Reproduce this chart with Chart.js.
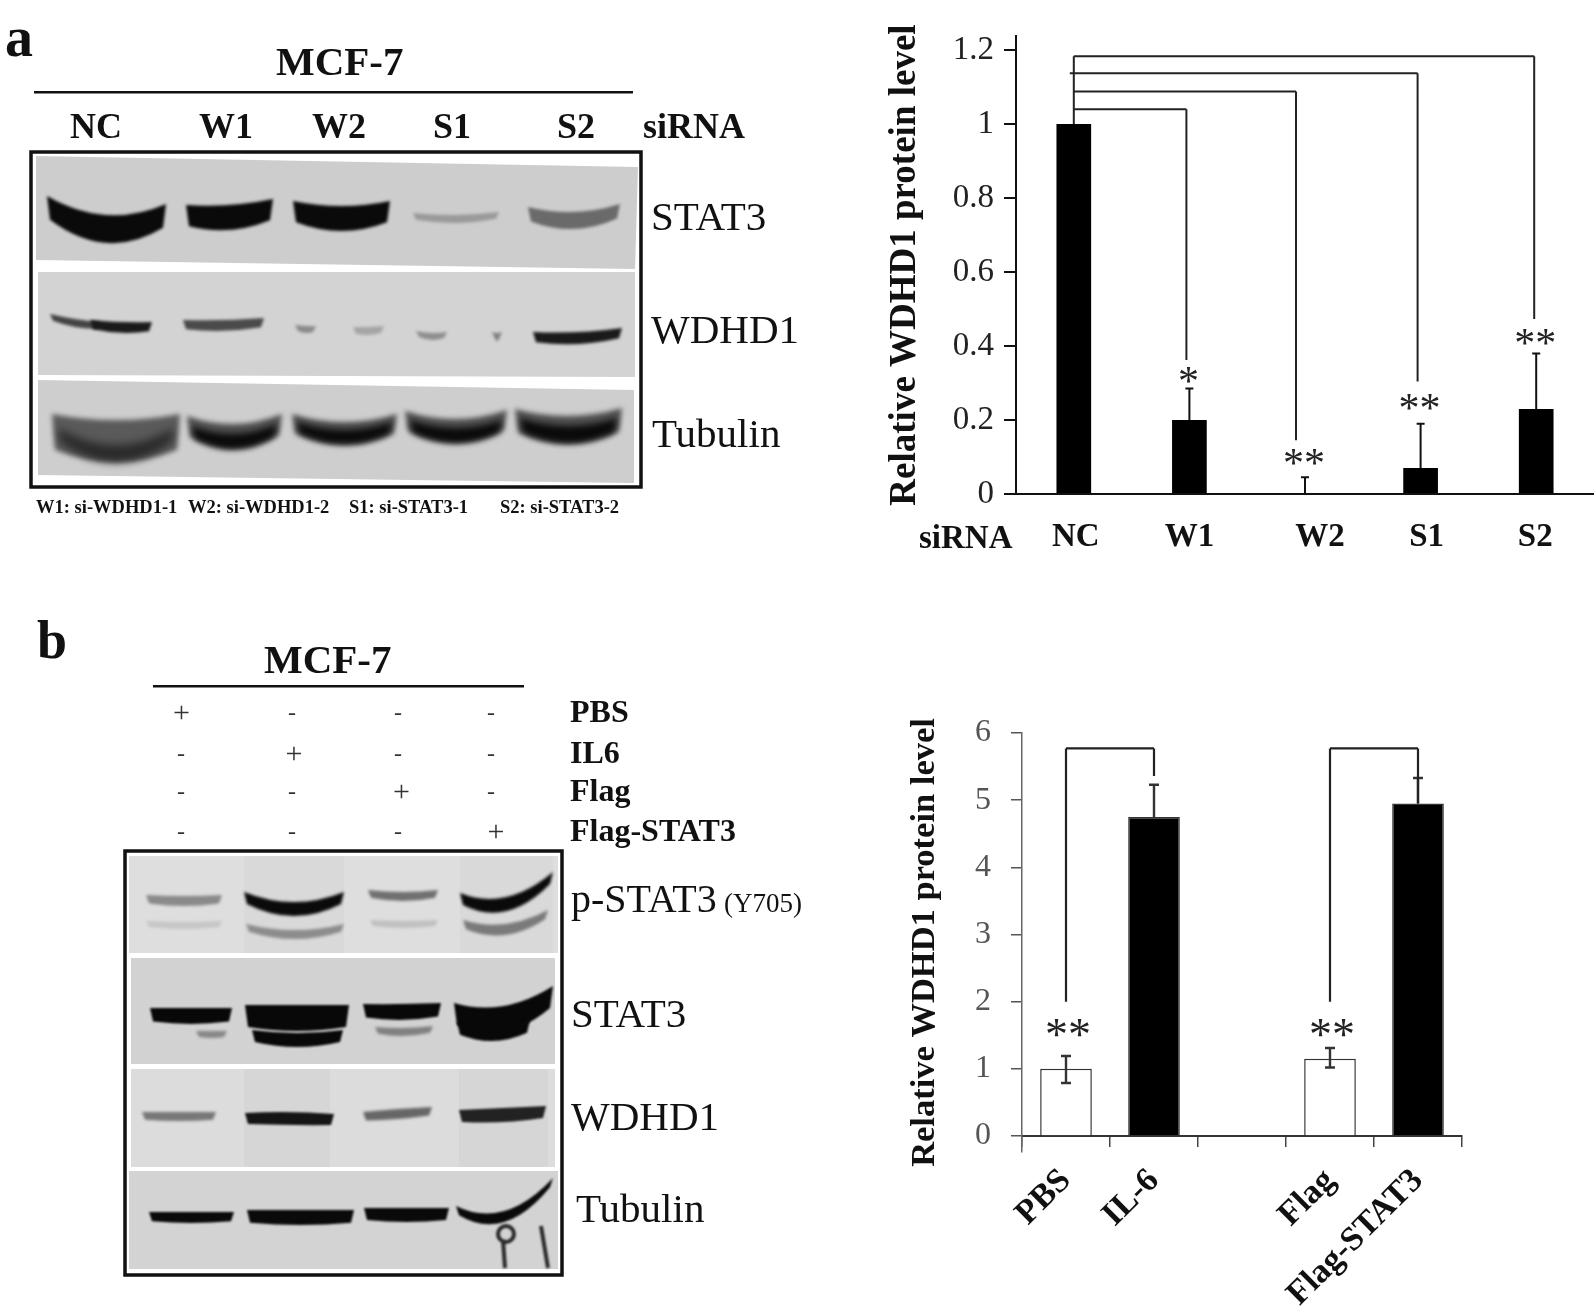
<!DOCTYPE html>
<html>
<head>
<meta charset="utf-8">
<title>WDHD1 / STAT3</title>
<script src="https://cdn.jsdelivr.net/npm/chart.js@4"></script>
<style>
    html, body { margin: 0; padding: 0; background: #fff; }
    #page { position: relative; width: 1594px; height: 1310px; overflow: hidden; filter: blur(0.5px); }
    canvas { position: absolute; }
    .lab { position: absolute; font-family: "Liberation Serif", serif; color: #111; white-space: nowrap; line-height: 1; transform: translateY(-50%); }
</style>
</head>
<body>
<div id="page">
    <canvas id="blots" width="860" height="1310" style="left:0;top:0"></canvas>
    <canvas id="chartA" width="734" height="570" style="left:860px;top:0"></canvas>
    <canvas id="chartB" width="600" height="620" style="left:880px;top:690px"></canvas>
</div>
<script>
// panel a, bar chart
const aLabels = ["NC", "W1", "W2", "S1", "S2"];
const aValues = [1, 0.2, 0, 0.07, 0.23];
const aErrTop = [1, 0.285, 0.045, 0.19, 0.38];
const aBracketLevel = [null, 1.04, 1.088, 1.137, 1.183];
const aBracketEnd = [null, 0.362, 0.145, 0.304, 0.473];
const aStars = ["", "*", "**", "**", "**"];
const aStarY = [null, 0.315, 0.095, 0.243, 0.42];

// panel b, bar chart
const bLabels = ["PBS", "IL-6", "", "Flag", "Flag-STAT3"];
const bValues = [1, 4.75, null, 1.15, 4.95];
const bErrTop = [1.19, 5.23, null, 1.31, 5.33];
const bErrBottom = [0.79, null, null, 1.02, null];
const bBracketLevel = 5.77;
const bBrackets = [[0, 1, 2, 5.36], [3, 4, 2, 4.95]];
const bStars = ["**", "", "", "**", ""];
const bStarY = [1.55, null, null, 1.55, null];

// blots, panel a and b text
const rowNames = ["PBS", "IL6", "Flag", "Flag-STAT3"];
const rowMarks = [
    ["+", "-", "-", "-"],
    ["-", "+", "-", "-"],
    ["-", "-", "+", "-"],
    ["-", "-", "-", "+"],
];

const SERIF = '"Liberation Serif", serif';
const page = document.getElementById("page");

const label = (text, x, cy, size, bold, color) => {
    const el = document.createElement("div");
    el.className = "lab";
    el.textContent = text;
    el.style.left = x + "px";
    el.style.top = cy + "px";
    el.style.fontSize = size + "px";
    el.style.fontWeight = bold ? "bold" : "normal";
    if (color) el.style.color = color;
    page.appendChild(el);
};

// ---- left side text ----
label("a", 5, 37, 56, true);
label("MCF-7", 276, 61, 41, true);
label("NC", 70, 126, 36, true);
label("W1", 199, 126, 36, true);
label("W2", 312, 126, 36, true);
label("S1", 433, 126, 36, true);
label("S2", 557, 126, 36, true);
label("siRNA", 643, 126, 36, true);
label("STAT3", 651, 216, 41, false);
label("WDHD1", 651, 329, 41, false);
label("Tubulin", 652, 433, 41, false);
label("W1: si-WDHD1-1", 36, 507, 18.5, true);
label("W2: si-WDHD1-2", 188, 507, 18.5, true);
label("S1: si-STAT3-1", 349, 507, 18.5, true);
label("S2: si-STAT3-2", 500, 507, 18.5, true);

label("b", 37, 640, 54, true);
label("MCF-7", 264, 659, 41, true);
const markX = [181, 292, 398, 491];
const rowY = [712, 753, 791, 831];
rowNames.forEach((name, r) => {
    label(name, 570, rowY[r] - 1, 32, true);
    rowMarks[r].forEach((m, c) => {
        const size = m === "+" ? 30 : 24;
        label(m, markX[c] + (m === "+" ? r * 1.5 - 8 : -4), rowY[r], size, false, "#333");
    });
});
label("p-STAT3", 571, 899, 40, false);
label("(Y705)", 724, 903, 27, false);
label("STAT3", 571, 1013, 41, false);
label("WDHD1", 571, 1116, 41, false);
label("Tubulin", 576, 1208, 41, false);
label("siRNA", 919, 537, 33, true);

// ---- blots ----
const bctx = document.getElementById("blots").getContext("2d");

const poly = (pts, color) => {
    bctx.filter = "none";
    bctx.fillStyle = color;
    bctx.beginPath();
    pts.forEach((p, i) => (i ? bctx.lineTo(p[0], p[1]) : bctx.moveTo(p[0], p[1])));
    bctx.closePath();
    bctx.fill();
};

// crescent shaped band: tips at tl / tr, top edge dips to tm, bottom edge to bm
const band = (x0, x1, tl, tr, tm, bm, color, blur) => {
    const xm = (x0 + x1) / 2;
    const e = (bm - tm) * 0.85;
    bctx.filter = `blur(${blur === undefined ? 1.6 : blur}px)`;
    bctx.fillStyle = color;
    bctx.beginPath();
    bctx.moveTo(x0, tl);
    bctx.quadraticCurveTo(xm, 2 * tm - (tl + tr) / 2, x1, tr);
    bctx.lineTo(x1 - 3, tr + e);
    bctx.quadraticCurveTo(xm, 2 * bm - (tl + tr) / 2 - e, x0 + 3, tl + e);
    bctx.closePath();
    bctx.fill();
    bctx.filter = "none";
};

const box = (x, y, w, h) => {
    bctx.strokeStyle = "#111";
    bctx.lineWidth = 3.5;
    bctx.strokeRect(x, y, w, h);
};

const rule = (x0, x1, y) => {
    bctx.fillStyle = "#111";
    bctx.fillRect(x0, y - 1, x1 - x0, 2.5);
};

// panel a
rule(34, 633, 92);
poly([[36, 156], [638, 167], [635, 269], [36, 260]], "#cdcdcd");
poly([[38, 272], [635, 272], [635, 377], [38, 375]], "#d3d3d3");
poly([[38, 380], [634, 390], [634, 483], [38, 475]], "#cecece");

band(47, 166, 196, 204, 215, 243, "#0a0a0a");
band(186, 273, 205, 199, 205, 230, "#0a0a0a");
band(293, 390, 201, 201, 206, 231, "#0a0a0a");
band(413, 499, 213, 212, 215, 223, "#9a9a9a", 1.4);
band(528, 620, 207, 204, 212, 229, "#6a6a6a");

band(50, 100, 314, 322, 319, 327, "#444");
band(90, 152, 320, 322, 322, 333, "#1a1a1a");
band(183, 264, 320, 318, 320, 331, "#4a4a4a");
band(295, 316, 325, 326, 326, 333, "#8a8a8a", 1.8);
band(353, 384, 327, 326, 327, 335, "#a5a5a5", 1.8);
band(416, 447, 331, 332, 333, 340, "#8f8f8f", 1.8);
band(492, 502, 332, 332, 333, 341, "#808080", 1.6);
band(533, 622, 332, 328, 332, 344, "#1a1a1a");

band(52, 180, 414, 414, 420, 462, "#5a5a5a", 2.5);
band(58, 174, 428, 428, 445, 462, "#2a2a2a", 4);
band(187, 282, 416, 414, 424, 449, "#505050", 2.5);
band(192, 277, 426, 424, 434, 449, "#0a0a0a", 3);
band(292, 397, 414, 414, 422, 445, "#505050", 2.5);
band(297, 392, 422, 422, 430, 444, "#0a0a0a", 3);
band(405, 507, 411, 410, 419, 443, "#505050", 2.5);
band(410, 502, 420, 420, 428, 443, "#0a0a0a", 3);
band(515, 622, 409, 408, 416, 444, "#505050", 2.5);
band(520, 617, 418, 418, 426, 443, "#0a0a0a", 3);

box(31, 152, 610, 335);

// panel b
rule(153, 524, 686);
poly([[129, 856], [558, 856], [558, 953], [129, 953]], "#dedede");
poly([[244, 856], [344, 856], [344, 953], [244, 953]], "#d9d9d9");
poly([[460, 856], [553, 856], [553, 953], [460, 953]], "#d9d9d9");
poly([[131, 958], [555, 958], [555, 1064], [131, 1064]], "#d2d2d2");
poly([[131, 1069], [555, 1069], [555, 1167], [131, 1167]], "#dcdcdc");
poly([[244, 1069], [330, 1069], [330, 1167], [244, 1167]], "#d6d6d6");
poly([[459, 1069], [548, 1069], [548, 1167], [459, 1167]], "#d6d6d6");
poly([[129, 1171], [558, 1171], [558, 1269], [129, 1269]], "#d3d3d3");

band(146, 222, 895, 895, 896, 906, "#8a8a8a", 1.5);
band(146, 222, 921, 921, 922, 929, "#c6c6c6", 1.8);
band(244, 344, 892, 892, 902, 916, "#0a0a0a", 1.5);
band(246, 344, 924, 924, 930, 939, "#8c8c8c", 1.8);
band(368, 438, 890, 890, 892, 901, "#707070", 1.5);
band(370, 438, 920, 920, 921, 928, "#c0c0c0", 1.8);
band(460, 553, 893, 872, 897, 911, "#0a0a0a", 1.5);
band(463, 548, 920, 910, 924, 935, "#7a7a7a", 1.8);

band(150, 232, 1008, 1008, 1008, 1024, "#080808", 1);
band(196, 227, 1031, 1031, 1031, 1038, "#888", 1.4);
band(245, 349, 1005, 1005, 1005, 1031, "#080808", 1);
band(252, 343, 1030, 1030, 1033, 1047, "#080808", 1);
band(363, 441, 1004, 1003, 1004, 1020, "#080808", 1);
band(375, 433, 1027, 1026, 1028, 1036, "#808080", 1.4);
band(454, 553, 1003, 986, 1006, 1032, "#080808", 1);
band(457, 530, 1022, 1020, 1026, 1041, "#080808", 1);

band(142, 216, 1112, 1112, 1112, 1121, "#777", 1.4);
band(245, 334, 1113, 1114, 1112, 1125, "#151515", 1.2);
band(363, 432, 1112, 1107, 1109, 1119, "#666", 1.4);
band(459, 546, 1110, 1106, 1108, 1122, "#222", 1.2);

band(149, 234, 1212, 1212, 1212, 1223, "#0a0a0a", 1);
band(247, 354, 1210, 1210, 1210, 1225, "#0a0a0a", 1);
band(364, 449, 1208, 1208, 1208, 1222, "#0a0a0a", 1);
band(456, 553, 1206, 1178, 1211, 1222, "#0a0a0a", 1);

// handwritten mark on the tubulin panel
bctx.strokeStyle = "#2a2a2a";
bctx.lineWidth = 4;
bctx.filter = "blur(0.8px)";
bctx.beginPath();
bctx.arc(506, 1234, 8, 0, Math.PI * 2);
bctx.moveTo(503, 1240);
bctx.lineTo(505, 1268);
bctx.moveTo(541, 1226);
bctx.lineTo(548, 1268);
bctx.stroke();
bctx.filter = "none";

box(125, 851, 437, 424);

// ---- bar charts ----
const stars = (ctx, text, x, y, font) => {
    ctx.save();
    ctx.font = font;
    ctx.fillStyle = "#222";
    ctx.textAlign = "center";
    ctx.textBaseline = "middle";
    ctx.fillText(text, x, y);
    ctx.restore();
};

const segs = (ctx, list, width, color) => {
    ctx.save();
    ctx.lineWidth = width;
    ctx.strokeStyle = color;
    ctx.beginPath();
    list.forEach((s) => {
        ctx.moveTo(s[0], s[1]);
        ctx.lineTo(s[2], s[3]);
    });
    ctx.stroke();
    ctx.restore();
};

// nudges seen in the original artwork, px from the bar centre
const aBracketNudge = [0, -3, -9, -3, -2];
const aLabelNudge = [2, 0, 15, 6, -1];

const annotateA = {
    id: "annotateA",
    // the axis title is centred on the scale box, the original sits a bit higher
    afterLayout: (chart) => {
        chart.scales.y.top -= 14;
    },
    afterDatasetsDraw: (chart) => {
        const {ctx, scales: {x, y}} = chart;
        const err = [];
        aLabels.forEach((_, i) => {
            if (i === 0) return;
            const cx = x.getPixelForValue(i);
            err.push([cx, y.getPixelForValue(aValues[i]), cx, y.getPixelForValue(aErrTop[i])]);
            err.push([cx - 4, y.getPixelForValue(aErrTop[i]), cx + 4, y.getPixelForValue(aErrTop[i])]);
        });
        segs(ctx, err, 2, "#111");

        const x0 = x.getPixelForValue(0);
        const br = [[x0, y.getPixelForValue(1), x0, y.getPixelForValue(aBracketLevel[4])]];
        aLabels.forEach((_, i) => {
            if (i === 0) return;
            const bx = x.getPixelForValue(i) + aBracketNudge[i];
            const ly = y.getPixelForValue(aBracketLevel[i]);
            br.push([i === 3 ? x0 - 4 : x0, ly, bx, ly]);
            br.push([bx, ly, bx, y.getPixelForValue(aBracketEnd[i])]);
            stars(ctx, aStars[i], x.getPixelForValue(i) - 1, y.getPixelForValue(aStarY[i]) + 7, `42px ${SERIF}`);
        });
        segs(ctx, br, 2, "#222");

        ctx.save();
        ctx.font = `bold 33px ${SERIF}`;
        ctx.fillStyle = "#111";
        ctx.textAlign = "center";
        ctx.textBaseline = "middle";
        aLabels.forEach((name, i) => {
            ctx.fillText(name, x.getPixelForValue(i) + aLabelNudge[i], 537);
        });
        ctx.restore();
    },
};

const annotateB = {
    id: "annotateB",
    afterLayout: (chart) => {
        chart.scales.y.bottom += 16;
    },
    afterDatasetsDraw: (chart) => {
        const {ctx, scales: {x, y}} = chart;
        const err = [];
        bLabels.forEach((_, i) => {
            if (bErrTop[i] === null) return;
            const cx = x.getPixelForValue(i);
            const top = y.getPixelForValue(bErrTop[i]);
            const low = y.getPixelForValue(bErrBottom[i] === null ? bValues[i] : bErrBottom[i]);
            err.push([cx, top, cx, low]);
            err.push([cx - 5, top, cx + 5, top]);
            if (bErrBottom[i] !== null) err.push([cx - 5, low, cx + 5, low]);
            if (bStars[i]) stars(ctx, bStars[i], cx + 2, y.getPixelForValue(bStarY[i]) + 6, `46px ${SERIF}`);
        });
        segs(ctx, err, 2.4, "#333");

        const br = [];
        const ly = y.getPixelForValue(bBracketLevel);
        bBrackets.forEach(([l, r, lowL, lowR]) => {
            const xl = x.getPixelForValue(l);
            const xr = x.getPixelForValue(r);
            br.push([xl, y.getPixelForValue(lowL), xl, ly]);
            br.push([xl, ly, xr, ly]);
            br.push([xr, ly, xr, y.getPixelForValue(lowR)]);
        });
        segs(ctx, br, 2.2, "#222");
    },
};

new Chart(document.getElementById("chartA").getContext("2d"), {
    type: "bar",
    data: {
        labels: aLabels,
        datasets: [{
            data: aValues,
            backgroundColor: "#000",
            barPercentage: 0.3,
            categoryPercentage: 1,
        }],
    },
    plugins: [annotateA],
    options: {
        responsive: false,
        animation: false,
        layout: {padding: {top: 50, right: 0, bottom: 0, left: 0}},
        plugins: {legend: {display: false}, tooltip: {enabled: false}},
        scales: {
            x: {
                afterFit: (s) => { s.height = 76; },
                border: {color: "#111", width: 2},
                grid: {display: false},
                ticks: {display: false},
            },
            y: {
                afterFit: (s) => { s.width = 156; },
                min: 0,
                max: 1.2,
                border: {color: "#111", width: 2},
                grid: {drawOnChartArea: false, color: "#111", tickLength: 12, lineWidth: 2},
                ticks: {
                    stepSize: 0.2,
                    color: "#222",
                    padding: 10,
                    font: {family: SERIF, size: 33},
                    callback: (v) => String(Number(v.toFixed(1))),
                },
                title: {
                    display: true,
                    text: "Relative WDHD1 protein level",
                    color: "#111",
                    padding: {top: 23, bottom: 0},
                    font: {family: SERIF, size: 37, weight: "bold"},
                },
            },
        },
    },
});

new Chart(document.getElementById("chartB").getContext("2d"), {
    type: "bar",
    data: {
        labels: bLabels,
        datasets: [{
            data: bValues,
            backgroundColor: ["#fff", "#000", "#000", "#fff", "#000"],
            borderColor: "#333",
            borderWidth: 1.5,
            barPercentage: 0.587,
            categoryPercentage: 1,
        }],
    },
    plugins: [annotateB],
    options: {
        responsive: false,
        animation: false,
        // tick padding adds to the top inset of the y scale, so the canvas starts higher
        layout: {padding: {top: 43, right: 18, bottom: 0, left: 0}},
        plugins: {legend: {display: false}, tooltip: {enabled: false}},
        scales: {
            x: {
                afterFit: (s) => { s.height = 174; },
                border: {color: "#333", width: 2},
                grid: {drawOnChartArea: false, color: "#444", tickLength: 11, lineWidth: 1.5},
                ticks: {
                    minRotation: 45,
                    maxRotation: 45,
                    autoSkip: false,
                    color: "#111",
                    padding: 14,
                    font: {family: SERIF, size: 34, weight: "bold"},
                },
            },
            y: {
                afterFit: (s) => { s.width = 142; },
                min: 0,
                max: 6,
                border: {color: "#666", width: 1.5},
                grid: {drawOnChartArea: false, color: "#555", tickLength: 11, lineWidth: 1.5},
                ticks: {stepSize: 1, color: "#555", padding: 20, font: {family: SERIF, size: 32}},
                title: {
                    display: true,
                    text: "Relative WDHD1 protein level",
                    color: "#111",
                    padding: {top: 24, bottom: 0},
                    font: {family: SERIF, size: 34.5, weight: "bold"},
                },
            },
        },
    },
});
</script>
</body>
</html>
